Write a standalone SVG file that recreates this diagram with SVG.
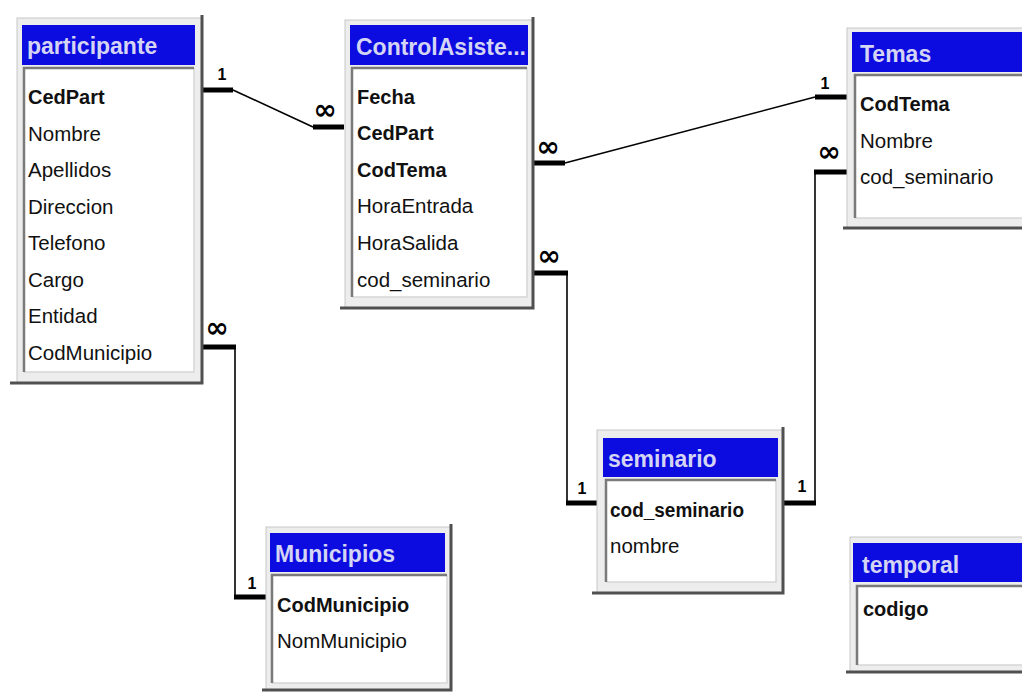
<svg xmlns="http://www.w3.org/2000/svg" width="1022" height="693" viewBox="0 0 1022 693">
<style>
.frame{fill:#ededed;stroke:#c8c8c8;stroke-width:1}
.shadow{fill:none;stroke:#505050;stroke-width:3}
.hdr{fill:#0c0ce0}
.body{fill:#ffffff}
.inset{fill:none;stroke:#7a7a7a;stroke-width:2.5}
.hl{fill:none;stroke:#d6d6d6;stroke-width:1.5}
.htxt{font-family:"Liberation Sans",Arial,sans-serif;font-weight:bold;font-size:23px;fill:#d4d4f4}
.fld{font-family:"Liberation Sans",Arial,sans-serif;font-size:20.5px;fill:#111}
.key{font-weight:bold;font-size:20px}
.bar{stroke:#000;stroke-width:5;fill:none}
.ln{stroke:#000;stroke-width:1.6;fill:none}
.one{font-family:"Liberation Sans",Arial,sans-serif;font-weight:bold;font-size:16px;fill:#000;text-anchor:middle}
.many{font-family:"DejaVu Sans",sans-serif;font-weight:bold;font-size:28px;fill:#000;text-anchor:middle}
</style>
<rect width="1022" height="693" fill="#ffffff"/>

<g id="connectors">
  <line class="bar" x1="203" y1="90" x2="233" y2="90"/>
  <line class="ln" x1="233" y1="90" x2="313" y2="127"/>
  <line class="bar" x1="313" y1="127" x2="344" y2="127"/>
  <text class="one" x="222" y="80">1</text>
  <text class="many" x="325" y="119">∞</text>

  <line class="bar" x1="534" y1="163" x2="565" y2="163"/>
  <line class="ln" x1="565" y1="163" x2="815" y2="97"/>
  <line class="bar" x1="815" y1="97" x2="847" y2="97"/>
  <text class="many" x="548" y="156">∞</text>
  <text class="one" x="825" y="89">1</text>

  <line class="bar" x1="534" y1="273" x2="568" y2="273"/>
  <line class="ln" x1="567" y1="273" x2="567" y2="503"/>
  <line class="bar" x1="566" y1="503" x2="598" y2="503"/>
  <text class="many" x="549" y="265">∞</text>
  <text class="one" x="582" y="494">1</text>

  <line class="bar" x1="814" y1="172" x2="847" y2="172"/>
  <line class="ln" x1="815" y1="172" x2="815" y2="503"/>
  <line class="bar" x1="783" y1="503" x2="816" y2="503"/>
  <text class="many" x="829" y="161">∞</text>
  <text class="one" x="802" y="492">1</text>

  <line class="bar" x1="203" y1="347" x2="236" y2="347"/>
  <line class="ln" x1="235" y1="347" x2="235" y2="597"/>
  <line class="bar" x1="234" y1="597" x2="268" y2="597"/>
  <text class="many" x="217" y="337">∞</text>
  <text class="one" x="252" y="589">1</text>
</g>

<g id="participante">
  <rect class="frame" x="17" y="18" width="185" height="365"/>
  <polyline class="shadow" points="202,15 202,383 10,383"/>
  <rect class="hdr" x="22" y="25" width="173" height="40"/>
  <text class="htxt" x="27" y="54">participante</text>
  <rect class="body" x="24" y="68" width="170" height="304"/>
  <polyline class="hl" points="194,68 194,372 24,372"/>
  <polyline class="inset" points="24,372 24,68 194,68"/>
  <text class="fld key" x="28" y="104">CedPart</text>
  <text class="fld" x="28" y="140.5">Nombre</text>
  <text class="fld" x="28" y="177">Apellidos</text>
  <text class="fld" x="28" y="213.5">Direccion</text>
  <text class="fld" x="28" y="250">Telefono</text>
  <text class="fld" x="28" y="286.5">Cargo</text>
  <text class="fld" x="28" y="323">Entidad</text>
  <text class="fld" x="28" y="359.5">CodMunicipio</text>
</g>

<g id="ControlAsistencia">
  <rect class="frame" x="345" y="20" width="188" height="288"/>
  <polyline class="shadow" points="533,17 533,308 340,308"/>
  <rect class="hdr" x="350" y="25" width="178" height="40"/>
  <text class="htxt" x="356" y="55">ControlAsiste...</text>
  <rect class="body" x="352" y="68" width="175" height="229"/>
  <polyline class="hl" points="527,68 527,297 352,297"/>
  <polyline class="inset" points="352,297 352,68 527,68"/>
  <text class="fld key" x="357" y="104">Fecha</text>
  <text class="fld key" x="357" y="140">CedPart</text>
  <text class="fld key" x="357" y="177">CodTema</text>
  <text class="fld" x="357" y="213">HoraEntrada</text>
  <text class="fld" x="357" y="250">HoraSalida</text>
  <text class="fld" x="357" y="287">cod_seminario</text>
</g>

<g id="Temas">
  <rect class="frame" x="847" y="28" width="180" height="200"/>
  <polyline class="shadow" points="843,228 1024,228"/>
  <rect class="hdr" x="852" y="32" width="175" height="40"/>
  <text class="htxt" x="860" y="62">Temas</text>
  <rect class="body" x="855" y="75" width="172" height="143"/>
  <polyline class="hl" points="855,218 1024,218"/>
  <polyline class="inset" points="855,218 855,75 1024,75"/>
  <text class="fld key" x="860" y="111">CodTema</text>
  <text class="fld" x="860" y="147.5">Nombre</text>
  <text class="fld" x="860" y="184">cod_seminario</text>
</g>

<g id="seminario">
  <rect class="frame" x="597" y="430" width="186" height="163"/>
  <polyline class="shadow" points="783,427 783,593 592,593"/>
  <rect class="hdr" x="603" y="438" width="175" height="39"/>
  <text class="htxt" x="608" y="467">seminario</text>
  <rect class="body" x="606" y="480" width="170" height="102"/>
  <polyline class="hl" points="776,480 776,582 606,582"/>
  <polyline class="inset" points="606,582 606,480 776,480"/>
  <text class="fld key" x="610" y="517" textLength="134" lengthAdjust="spacingAndGlyphs">cod_seminario</text>
  <text class="fld" x="610" y="553">nombre</text>
</g>

<g id="Municipios">
  <rect class="frame" x="266" y="527" width="185" height="163"/>
  <polyline class="shadow" points="451,524 451,690 262,690"/>
  <rect class="hdr" x="270" y="533" width="175" height="39"/>
  <text class="htxt" x="275" y="562">Municipios</text>
  <rect class="body" x="272" y="575" width="175" height="108"/>
  <polyline class="hl" points="447,575 447,683 272,683"/>
  <polyline class="inset" points="272,683 272,575 447,575"/>
  <text class="fld key" x="277" y="612">CodMunicipio</text>
  <text class="fld" x="277" y="648">NomMunicipio</text>
</g>

<g id="temporal">
  <rect class="frame" x="850" y="537" width="180" height="135"/>
  <polyline class="shadow" points="846,672 1024,672"/>
  <rect class="hdr" x="853" y="543" width="175" height="39"/>
  <text class="htxt" x="862" y="573">temporal</text>
  <rect class="body" x="857" y="586" width="170" height="79"/>
  <polyline class="hl" points="857,665 1024,665"/>
  <polyline class="inset" points="857,665 857,586 1024,586"/>
  <text class="fld key" x="863" y="616">codigo</text>
</g>
</svg>
